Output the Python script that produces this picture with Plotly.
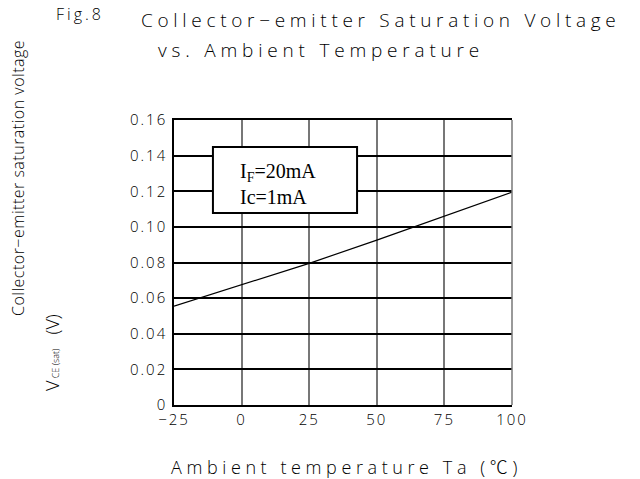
import plotly.graph_objects as go

# Data
temperature = [-25, 0, 25, 50, 75, 100]
vce_sat = [0.0555, 0.0674, 0.0795, 0.0926, 0.1061, 0.1195]

x_ticks = [-25, 0, 25, 50, 75, 100]
x_ticklabels = ["\u221225", "0", "25", "50", "75", "100"]
y_ticks = [0, 0.02, 0.04, 0.06, 0.08, 0.10, 0.12, 0.14, 0.16]
y_ticklabels = ["0", "0.02", "0.04", "0.06", "0.08", "0.10", "0.12", "0.14", "0.16"]

FONT = "Open Sans"
W = 300

def sp(t, px):
    return f'<span style="letter-spacing:{px}px">{t}</span>'

fig = go.Figure()
fig.add_trace(go.Scatter(x=temperature, y=vce_sat, mode="lines",
                         line=dict(color="black", width=1.2), showlegend=False,
                         hoverinfo="skip"))

tickfont = dict(size=15, family=FONT, weight=W)
# the page body adds an 8px offset, so margins are reduced by 8px on left/top
fig.update_layout(
    width=640, height=479,
    margin=dict(l=166, r=136, t=112, b=82),
    paper_bgcolor="white", plot_bgcolor="white",
    font=dict(family=FONT, color="black", size=13, weight=W),
    xaxis=dict(range=[-25, 100], tickvals=x_ticks,
               ticktext=[sp(t, 2) for t in x_ticklabels],
               showgrid=True, gridcolor="#777777", gridwidth=1.5,
               showline=True, linecolor="black", linewidth=1.5, mirror=True,
               ticks="", zeroline=False, tickfont=tickfont, ticklabelstandoff=0),
    yaxis=dict(range=[0, 0.16], tickvals=y_ticks,
               ticktext=[sp(t, 2) for t in y_ticklabels],
               showgrid=True, gridcolor="black", gridwidth=1.5,
               showline=True, linecolor="black", linewidth=1.5,
               ticks="", zeroline=False, tickfont=tickfont,
               ticklabelstandoff=2),
)

# right frame edge (gray like verticals)
fig.add_shape(type="line", xref="paper", yref="paper", x0=1, x1=1, y0=0, y1=1,
              line=dict(color="#777777", width=1.5))

# condition box
fig.add_shape(type="rect", xref="x", yref="y", x0=-10.6, x1=42.7, y0=0.1078, y1=0.1448,
              line=dict(color="black", width=2), fillcolor="white", layer="above")
fig.add_annotation(xref="x", yref="y", x=-1.5, y=0.1243, xanchor="left", yanchor="middle",
                   showarrow=False, align="left",
                   text="I<sub>F</sub>=20mA<br>Ic=1mA",
                   font=dict(family="Liberation Serif", size=20, color="black"))

# titles
fig.add_annotation(xref="paper", yref="paper", x=-0.355, y=1.372, xanchor="left", yanchor="middle",
                   showarrow=False, text=sp("Fig.8", 3),
                   font=dict(family=FONT, size=16, weight=W))
fig.add_annotation(xref="paper", yref="paper", x=-0.1036, y=1.351, xanchor="left", yanchor="middle",
                   showarrow=False, text=sp("Collector\u2212emitter Saturation Voltage", 4.7),
                   font=dict(family=FONT, size=19, weight=W))
fig.add_annotation(xref="paper", yref="paper", x=-0.053, y=1.246, xanchor="left", yanchor="middle",
                   showarrow=False, text=sp("vs. Ambient Temperature", 4.8),
                   font=dict(family=FONT, size=19, weight=W))

# y titles
fig.add_annotation(xref="paper", yref="paper", x=-0.461, y=0.797, xanchor="center", yanchor="middle",
                   textangle=-90, showarrow=False,
                   text=sp("Collector\u2212emitter saturation voltage", 0.5),
                   font=dict(family=FONT, size=16, weight=W))
fig.add_annotation(xref="paper", yref="paper", x=-0.361, y=0.186, xanchor="center", yanchor="middle",
                   textangle=-90, showarrow=False,
                   text="V<span style=\"font-size:9px\"> CE (sat)</span>   (V)",
                   font=dict(family=FONT, size=18, weight=W))

# x title
degc = "<span style=\"font-family:'Noto Sans CJK JP';font-weight:300\">\u2103</span>"
fig.add_annotation(xref="paper", yref="paper", x=0.509, y=-0.214, xanchor="center", yanchor="middle",
                   showarrow=False, text=sp("Ambient temperature Ta (" + degc + ")", 4.6),
                   font=dict(family=FONT, size=18, weight=W))

fig.write_html("out.html")
